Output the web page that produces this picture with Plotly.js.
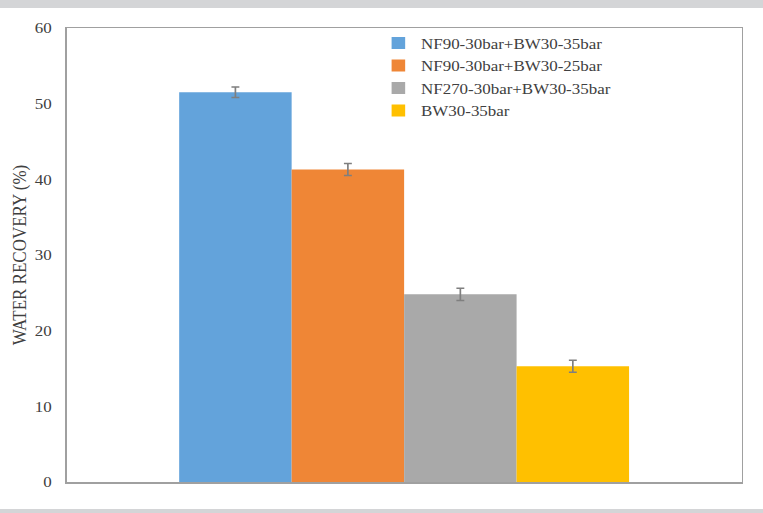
<!DOCTYPE html>
<html>
<head>
<meta charset="utf-8">
<script src="https://cdn.plot.ly/plotly-3.0.1.min.js"></script>
<style>
html, body { margin: 0; padding: 0; background: #ffffff; }
#wrap { position: relative; width: 763px; height: 513px; overflow: hidden; }
#chart { position: absolute; left: 0; top: 0; width: 675px; height: 513px; transform: scaleX(1.1304); transform-origin: 0 0; }
.band { position: absolute; left: 0; width: 763px; background: #d4d5d7; }
</style>
</head>
<body>
<div id="wrap">
  <div id="chart"></div>
  <div class="band" style="top:0;height:8px;"></div>
  <div class="band" style="top:509px;height:4px;"></div>
</div>
<script>
var category = [""];
var seriesNames = ["NF90-30bar+BW30-35bar", "NF90-30bar+BW30-25bar", "NF270-30bar+BW30-35bar", "BW30-35bar"];
var recovery = [51.5, 41.3, 24.8, 15.3];
var recoveryErr = [0.7, 0.8, 0.8, 0.8];
var colors = ["#63a3db", "#ef8636", "#a9a9a9", "#ffc000"];
var yTicks = [0, 10, 20, 30, 40, 50, 60];

var serif = "Liberation Serif";

var traces = seriesNames.map(function (name, i) {
  return {
    type: "bar",
    name: name,
    x: category,
    y: [recovery[i]],
    marker: { color: colors[i], line: { width: 0 } },
    error_y: { type: "data", array: [recoveryErr[i]], visible: true, color: "#7f7f7f", thickness: 1.5, width: 3.5 }
  };
});

var layout = {
  width: 675,
  height: 513,
  margin: { l: 59.3, r: 18.6, t: 27.5, b: 31 },
  paper_bgcolor: "#ffffff",
  plot_bgcolor: "#ffffff",
  barmode: "group",
  bargap: 1 / 3,
  bargroupgap: 0,
  showlegend: true,
  legend: {
    x: 0.458, y: 1.003, xanchor: "left", yanchor: "top",
    bgcolor: "rgba(0,0,0,0)",
    font: { family: serif, size: 15, color: "#404040" },
    tracegroupgap: 0,
    itemwidth: 30
  },
  font: { family: serif, color: "#404040" },
  xaxis: {
    showticklabels: false,
    ticks: "",
    showline: true, mirror: true, linecolor: "#a0a0a0", linewidth: 1.5,
    showgrid: false, zeroline: false
  },
  yaxis: {
    range: [0, 60],
    tickvals: yTicks,
    ticktext: yTicks.map(String),
    ticks: "",
    ticklabelstandoff: 9,
    tickfont: { family: serif, size: 15, color: "#404040" },
    showline: true, mirror: true, linecolor: "#a0a0a0", linewidth: 1.3,
    showgrid: false, zeroline: false,
    title: { text: "WATER RECOVERY (%)", font: { family: serif, size: 17, color: "#404040" }, standoff: 2 }
  }
};

Plotly.newPlot("chart", traces, layout, { displayModeBar: false, staticPlot: true });
</script>
</body>
</html>
